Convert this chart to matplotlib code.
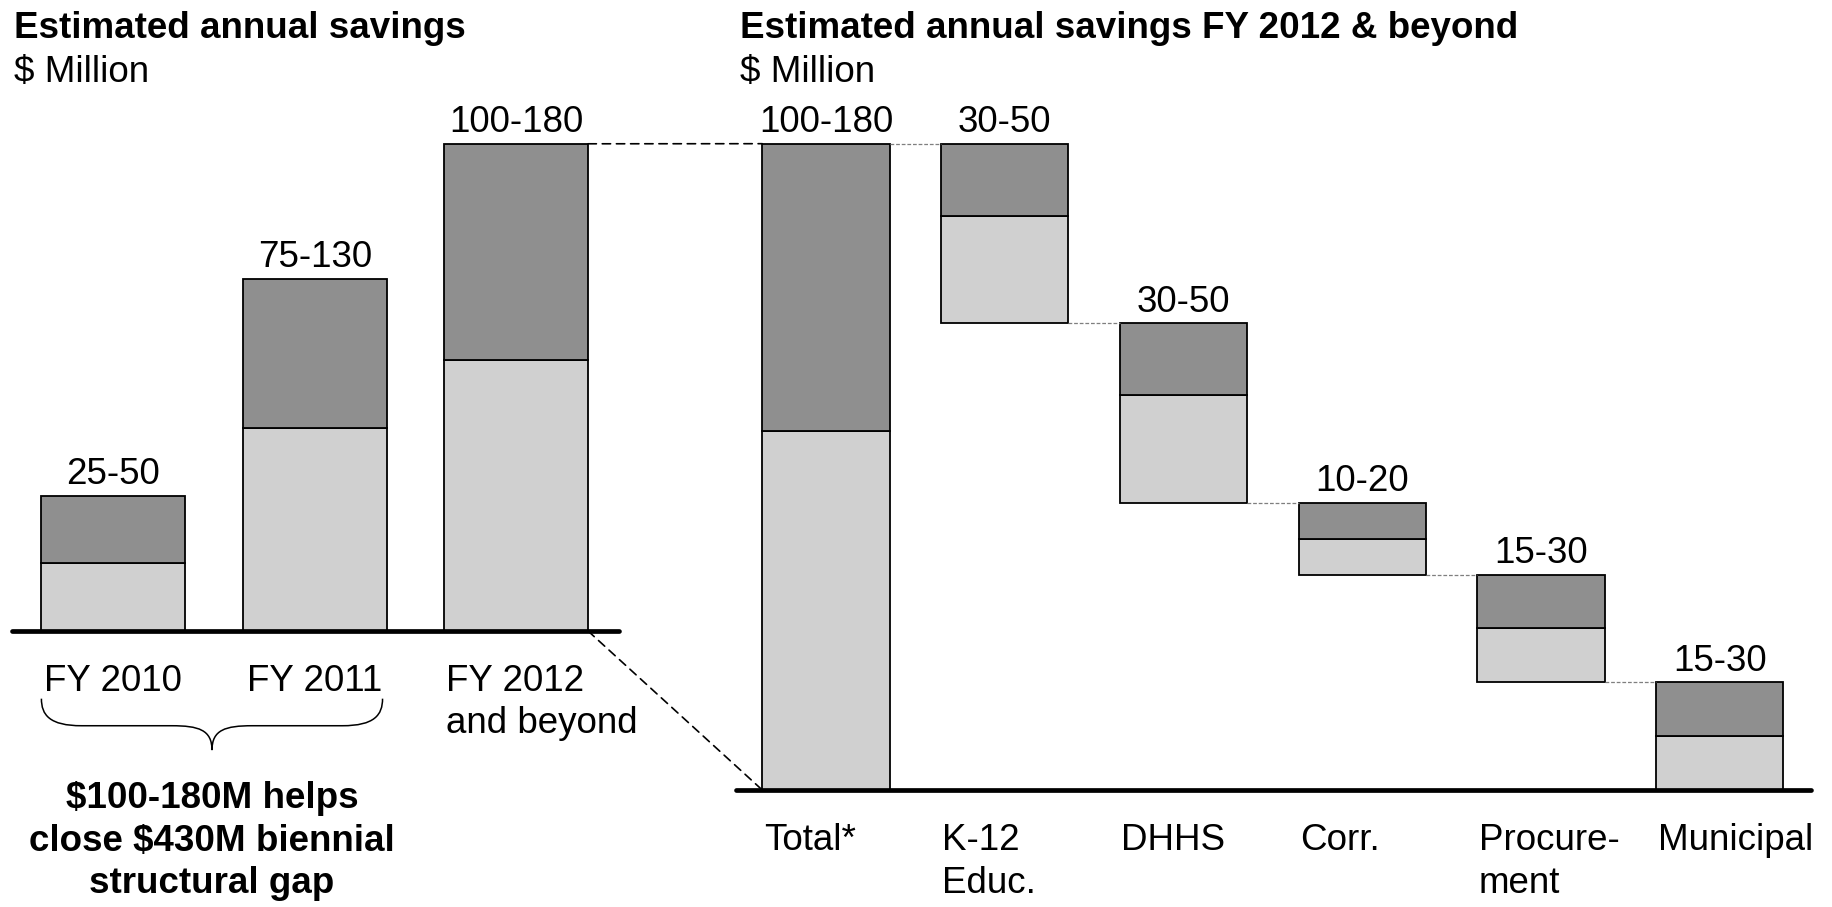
import matplotlib
matplotlib.use("Agg")
import matplotlib.pyplot as plt
from matplotlib.patches import ConnectionPatch, PathPatch
from matplotlib.path import Path

plt.rcParams["font.family"] = ["Liberation Sans", "DejaVu Sans"]

# savings by year, $ million (low / high of range)
year_labels = ["FY 2010", "FY 2011", "FY 2012\nand beyond"]
year_low = [25, 75, 100]
year_high = [50, 130, 180]

# FY 2012 & beyond, by area
area_labels = ["Total*", "K-12\nEduc.", "DHHS", "Corr.", "Procure-\nment", "Municipal"]
area_low = [100, 30, 30, 10, 15, 15]
area_high = [180, 50, 50, 20, 30, 30]

DARK = "#8f8f8f"
LIGHT = "#d0d0d0"
FS = 26.5
LS = 1.27
W, H = 1832, 907

fig = plt.figure(figsize=(W / 100, H / 100), dpi=100)

ax_l = fig.add_axes([11.7 / W, (H - 631) / H, 607.3 / W, 200 * 2.7067 / H])
ax_r = fig.add_axes([736 / W, (H - 790) / H, 1075 / W, 200 * 3.5906 / H])
ax_l.set_xlim(-0.504, 2.51)
ax_r.set_xlim(-0.503, 5.51)
for ax in (ax_l, ax_r):
    ax.set_ylim(0, 200)
    ax.axis("off")
    ax.axhline(0, color="black", lw=3.4, solid_capstyle="round", zorder=5, clip_on=False)

bw_l, bw_r = 0.713, 0.712

# left panel: stacked ranges per year
xs_l = list(range(len(year_labels)))
ax_l.bar(xs_l, year_low, width=bw_l, color=LIGHT, edgecolor="black", lw=1.3)
ax_l.bar(xs_l, [h - l for l, h in zip(year_low, year_high)], bottom=year_low,
         width=bw_l, color=DARK, edgecolor="black", lw=1.3)
for x, lo, hi in zip(xs_l, year_low, year_high):
    ax_l.annotate(f"{lo}-{hi}", (x, hi), xytext=(0, 8.4), textcoords="offset points",
                  ha="center", va="baseline", fontsize=FS)
for x, lab in zip(xs_l, year_labels):
    if "\n" in lab:
        ax_l.annotate(lab, (x - bw_l / 2, 0), xytext=(1, -23.5), textcoords="offset points",
                      ha="left", va="top", fontsize=FS, linespacing=LS)
    else:
        ax_l.annotate(lab, (x, 0), xytext=(0, -23.5), textcoords="offset points",
                      ha="center", va="top", fontsize=FS)

# brace under FY 2010 / FY 2011
x0, x1 = xs_l[0] - bw_l / 2, xs_l[1] + bw_l / 2 - 0.02
xm = (x0 + x1) / 2
r = 0.2
ya, yb, yc = -25, -35, -44
verts = [(x0, ya), (x0, yb + 4), (x0 + 0.04, yb), (x0 + r, yb),
         (xm - r, yb), (xm - r / 3, yb), (xm, yb - 1.5), (xm, yc),
         (xm, yb - 1.5), (xm + r / 3, yb), (xm + r, yb),
         (x1 - r, yb), (x1 - 0.04, yb), (x1, yb + 4), (x1, ya)]
codes = [Path.MOVETO, Path.CURVE4, Path.CURVE4, Path.CURVE4,
         Path.LINETO, Path.CURVE4, Path.CURVE4, Path.CURVE4,
         Path.CURVE4, Path.CURVE4, Path.CURVE4,
         Path.LINETO, Path.CURVE4, Path.CURVE4, Path.CURVE4]
ax_l.add_patch(PathPatch(Path(verts, codes), fill=False, lw=1.1, color="black", clip_on=False))
ax_l.text(xm, -55.5, "$100-180M helps\nclose $430M biennial\nstructural gap", ha="center",
          va="top", fontsize=FS, fontweight="bold", linespacing=LS)

# right panel: waterfall from total down to each area
xs_r = list(range(len(area_labels)))
bases = [0]
top = area_high[0]
for hi in area_high[1:]:
    bases.append(top - hi)
    top -= hi
ax_r.bar(xs_r, area_low, bottom=bases, width=bw_r, color=LIGHT, edgecolor="black", lw=1.3)
ax_r.bar(xs_r, [h - l for l, h in zip(area_low, area_high)],
         bottom=[b + l for b, l in zip(bases, area_low)],
         width=bw_r, color=DARK, edgecolor="black", lw=1.3)
for x, b, lo, hi in zip(xs_r, bases, area_low, area_high):
    ax_r.annotate(f"{lo}-{hi}", (x, b + hi), xytext=(0, 8.4), textcoords="offset points",
                  ha="center", va="baseline", fontsize=FS)
for x, lab in zip(xs_r, area_labels):
    ax_r.annotate(lab, (x - bw_r / 2, 0), xytext=(1, -24), textcoords="offset points",
                  ha="left", va="top", fontsize=FS, linespacing=LS)

# thin step connectors
for i in range(len(xs_r) - 1):
    y = area_high[0] if i == 0 else bases[i]
    ax_r.plot([xs_r[i] + bw_r / 2, xs_r[i + 1] - bw_r / 2], [y, y], color="#7f7f7f",
              lw=0.9, ls=(0, (3, 1.5)), zorder=1)

# dashed lines linking FY 2012 bar to the total bar
for ya_, yb_ in [(year_high[2], area_high[0]), (0, 0)]:
    con = ConnectionPatch(xyA=(xs_l[2] + bw_l / 2, ya_), coordsA=ax_l.transData,
                          xyB=(xs_r[0] - bw_r / 2, yb_), coordsB=ax_r.transData,
                          color="black", lw=1.2, ls=(0, (5, 3.5)))
    fig.add_artist(con)

fig.text(14 / W, 1 - 10.5 / H, "Estimated annual savings", fontsize=FS, fontweight="bold", va="top")
fig.text(14 / W, 1 - 55 / H, "$ Million", fontsize=FS, va="top")
fig.text(739.6 / W, 1 - 10.5 / H, "Estimated annual savings FY 2012 & beyond",
         fontsize=FS, fontweight="bold", va="top")
fig.text(739.6 / W, 1 - 55 / H, "$ Million", fontsize=FS, va="top")

fig.savefig("out.png", dpi=100)
